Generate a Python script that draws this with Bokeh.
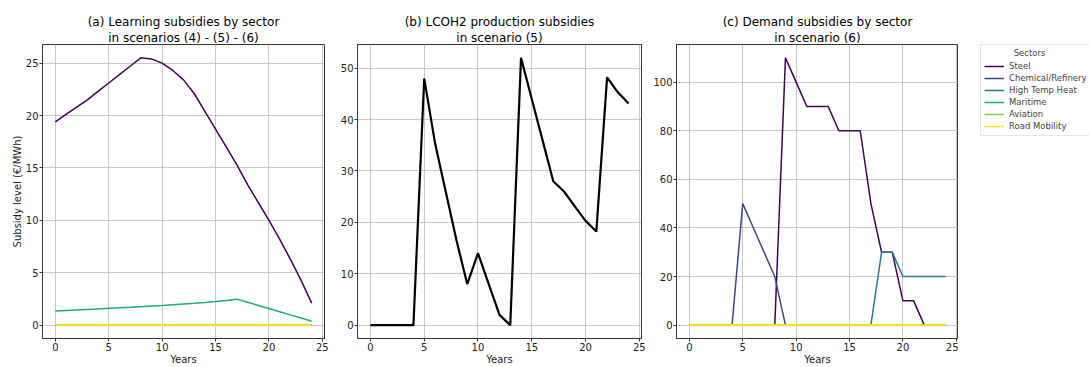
from bokeh.plotting import figure
from bokeh.layouts import row
from bokeh.models import FixedTicker, Range1d, Legend, LegendItem, Title
from bokeh.embed import file_html
from bokeh.resources import INLINE

years = list(range(25))
sectors = ["Steel", "Chemical/Refinery", "High Temp Heat", "Maritime", "Aviation", "Road Mobility"]
colors = ["#440154", "#414487", "#2A788E", "#22A884", "#7AD151", "#FDE725"]
widths = [1.5, 1.5, 1.5, 1.5, 1.5, 2.0]

# (a) Learning subsidies
learn_steel = [19.4, 20.1, 20.8, 21.5, 22.3, 23.1, 23.9, 24.7, 25.5, 25.4, 25.0, 24.3, 23.4,
               22.1, 20.4, 18.7, 17.0, 15.3, 13.4, 11.7, 10.0, 8.2, 6.3, 4.3, 2.1]
learn_chem = [0.0] * 25
learn_hth = [0.0] * 25
learn_maritime = [1.35, 1.40, 1.45, 1.50, 1.55, 1.60, 1.65, 1.70, 1.76, 1.82, 1.88, 1.95, 2.02,
                  2.09, 2.17, 2.26, 2.36, 2.48, 2.18, 1.88, 1.58, 1.28, 0.98, 0.68, 0.37]
learn_aviation = [0.0] * 25
learn_road = [0.0] * 25
learn_all = [learn_steel, learn_chem, learn_hth, learn_maritime, learn_aviation, learn_road]

# (b) LCOH2 production subsidies
lcoh2 = [0, 0, 0, 0, 0, 48, 35.5, 26, 16.5, 8, 14, 8, 2, 0, 52, 44, 36, 28, 26, 23.1, 20.3, 18.2,
         48.2, 45.3, 43.1]

# (c) Demand subsidies
dem_steel = [0, 0, 0, 0, 0, 0, 0, 0, 0, 110, 100, 90, 90, 90, 80, 80, 80, 50, 30, 30, 10, 10, 0, 0, 0]
dem_chem = [0, 0, 0, 0, 0, 50, 40, 30, 20, 0, 0, 0, 0, 0, 0, 0, 0, 0, 0, 0, 0, 0, 0, 0, 0]
dem_hth = [0, 0, 0, 0, 0, 0, 0, 0, 0, 0, 0, 0, 0, 0, 0, 0, 0, 0, 30, 30, 20, 20, 20, 20, 20]
dem_maritime = [0.0] * 25
dem_aviation = [0.0] * 25
dem_road = [0.0] * 25
dem_all = [dem_steel, dem_chem, dem_hth, dem_maritime, dem_aviation, dem_road]

FONT = "DejaVu Sans"
H = 367


def add_titles(p, line1, line2):
    for txt in (line2, line1):
        t = Title(text=txt, align="center", text_font=FONT, text_font_size="12px",
                  text_font_style="normal", text_color="#000000", standoff=0, offset=0,
                  text_line_height=1.0)
        p.add_layout(t, "above")


def make_fig(line1, line2, width, left, right, ymin, ymax, yticks):
    p = figure(width=width, height=H, output_backend="svg", toolbar_location=None,
               x_range=Range1d(-1.2, 25.2), y_range=Range1d(ymin, ymax),
               min_border_left=left, min_border_right=right,
               min_border_top=40, min_border_bottom=25)
    add_titles(p, line1, line2)
    p.xaxis.ticker = FixedTicker(ticks=[0, 5, 10, 15, 20, 25])
    p.yaxis.ticker = FixedTicker(ticks=yticks)
    for ax in (p.xaxis, p.yaxis):
        ax.major_label_text_font = FONT
        ax.major_label_text_font_size = "10px"
        ax.major_label_text_color = "#222222"
        ax.axis_label_text_font = FONT
        ax.axis_label_text_font_size = "10px"
        ax.axis_label_text_font_style = "normal"
        ax.axis_label_text_color = "#222222"
        ax.major_tick_in = 0
        ax.major_tick_out = 3
        ax.minor_tick_line_color = None
        ax.major_label_standoff = 1
        ax.axis_label_standoff = 0
        ax.axis_line_color = "#333333"
        ax.major_tick_line_color = "#333333"
    p.xaxis.axis_label = "Years"
    p.grid.grid_line_color = "#b0b0b0"
    p.grid.grid_line_alpha = 0.7
    p.outline_line_color = "#333333"
    p.outline_line_alpha = 1.0
    p.background_fill_color = "white"
    p.border_fill_color = "white"
    return p


pa = make_fig("(a) Learning subsidies by sector", "in scenarios (4) - (5) - (6)", 336, 42, 12,
              -1.275, 26.775, [0, 5, 10, 15, 20, 25])
pa.yaxis.axis_label = "Subsidy level (€/MWh)"
for ys, c, w in zip(learn_all, colors, widths):
    pa.line(years, ys, line_color=c, line_width=w)

pb = make_fig("(b) LCOH2 production subsidies", "in scenario (5)", 314, 21, 9,
              -2.6, 54.6, [0, 10, 20, 30, 40, 50])
pb.line(years, lcoh2, line_color="black", line_width=2.2)

pc = make_fig("(c) Demand subsidies by sector", "in scenario (6)", 308, 26, 0,
              -5.5, 115.5, [0, 20, 40, 60, 80, 100])
for ys, c, w in zip(dem_all, colors, widths):
    pc.line(years, ys, line_color=c, line_width=w)

# legend panel: the same series, kept outside its visible range, only their keys show
pl = figure(width=1089 - 336 - 314 - 308, height=H, output_backend="svg", toolbar_location=None,
            x_axis_type=None, y_axis_type=None, x_range=Range1d(-200, -199),
            y_range=Range1d(-200, -199), min_border_left=22, min_border_top=44,
            min_border_right=0, min_border_bottom=0)
pl.outline_line_color = None
pl.background_fill_color = "white"
pl.border_fill_color = "white"
keys = [pl.line(years, ys, line_color=c, line_width=1.5) for ys, c in zip(dem_all, colors)]
legend = Legend(items=[LegendItem(label=s, renderers=[r]) for s, r in zip(sectors, keys)],
                location="top_left", title="\u00a0" * 11 + "Sectors")
legend.title_text_font = FONT
legend.title_text_font_size = "8.5px"
legend.title_text_font_style = "normal"
legend.title_standoff = 2
legend.label_text_font = FONT
legend.label_text_font_size = "8.5px"
legend.label_height = 12
legend.glyph_height = 12
legend.glyph_width = 20
legend.label_standoff = 5
legend.spacing = 0
legend.padding = 3
legend.margin = 0
legend.border_line_color = "#cccccc"
legend.background_fill_alpha = 1.0
pl.add_layout(legend)

layout = row(pa, pb, pc, pl)
open("out.html", "w").write(file_html(layout, INLINE))
